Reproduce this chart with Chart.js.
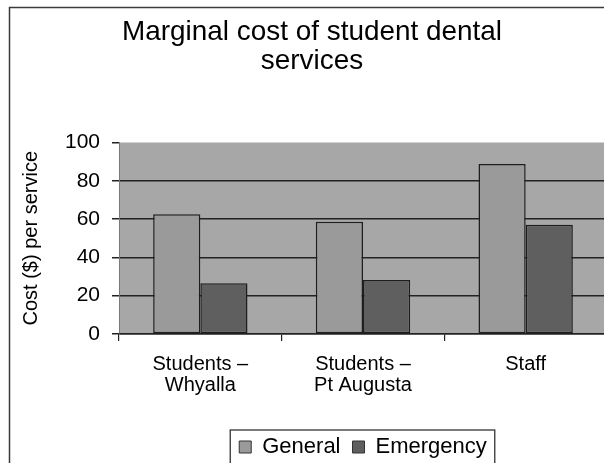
<!DOCTYPE html>
<html>
<head>
<meta charset="utf-8">
<script src="https://cdn.jsdelivr.net/npm/chart.js@4/dist/chart.umd.min.js"></script>
<style>
  html, body { margin: 0; padding: 0; background: #fff; overflow: hidden; }
  canvas { display: block; }
</style>
</head>
<body>
<canvas id="chart" width="620" height="470"></canvas>
<script>
// data
const categories = [['Students \u2013', 'Whyalla'], ['Students \u2013', 'Pt Augusta'], 'Staff'];
const general = [62.5, 58.6, 88.8];
const emergency = [26.5, 28.2, 57.0];
const yTicks = [0, 20, 40, 60, 80, 100];

const FONT = "'Liberation Sans', Arial, sans-serif";

// white page, grey plot area, outer frame
const backdrop = {
    id: 'backdrop',
    beforeDraw(chart) {
        const { ctx, chartArea: a } = chart;
        ctx.save();
        ctx.fillStyle = '#fff';
        ctx.fillRect(0, 0, chart.width, chart.height);
        ctx.fillStyle = '#a7a7a7';
        ctx.fillRect(a.left, a.top, a.right - a.left, a.bottom - a.top);
        ctx.restore();
    },
    afterDraw(chart) {
        const ctx = chart.ctx;
        ctx.save();
        ctx.strokeStyle = '#3a3a3a';
        ctx.lineWidth = 1.5;
        ctx.strokeRect(9.5, 7.5, 800, 800);
        // box round the legend
        const hb = chart.legend.legendHitBoxes;
        if (hb && hb.length) {
            const first = hb[0], last = hb[hb.length - 1];
            const l = first.left - 9, r = last.left + last.width + 8;
            ctx.strokeStyle = '#333';
            ctx.lineWidth = 1.3;
            ctx.strokeRect(l, first.top - 6, r - l, 200);
        }
        ctx.restore();
    }
};

new Chart(document.getElementById('chart'), {
    type: 'bar',
    data: {
        labels: categories,
        datasets: [
            { label: 'General', data: general, backgroundColor: '#9a9a9a', borderColor: '#1e1e1e', borderWidth: 1.5 },
            { label: 'Emergency', data: emergency, backgroundColor: '#5f5f5f', borderColor: '#1e1e1e', borderWidth: 1.5 }
        ]
    },
    options: {
        responsive: false,
        animation: false,
        devicePixelRatio: 1,
        layout: { padding: { top: 0, left: 17, right: 13, bottom: 2 } },
        datasets: { bar: { categoryPercentage: 0.58, barPercentage: 1.0, borderSkipped: false } },
        plugins: {
            title: {
                display: true,
                text: ['Marginal cost of student dental', 'services'],
                color: '#000',
                font: { family: FONT, size: 27.9, weight: 'normal', lineHeight: 1.05 },
                padding: { top: 17.6, bottom: 66.3 }
            },
            legend: {
                position: 'bottom',
                fullSize: false,
                labels: {
                    color: '#000',
                    font: { family: FONT, size: 22 },
                    boxWidth: 12,
                    boxHeight: 12,
                    padding: 12,
                    generateLabels: (chart) => chart.data.datasets.map((ds, i) => ({
                        text: ds.label,
                        fillStyle: ds.backgroundColor,
                        strokeStyle: '#333',
                        lineWidth: 1,
                        fontColor: '#000',
                        datasetIndex: i
                    }))
                }
            },
            tooltip: { enabled: false }
        },
        scales: {
            x: {
                offset: true,
                grid: { drawOnChartArea: false, drawTicks: true, tickLength: 7, tickColor: '#222', lineWidth: 1.2 },
                border: { color: '#222', width: 1.5 },
                ticks: { color: '#000', padding: 13, font: { family: FONT, size: 20, lineHeight: 1.05 } },
                afterFit: (s) => { s.height = 90; }
            },
            y: {
                min: 0,
                max: 100,
                afterBuildTicks: (s) => { s.ticks = yTicks.map(v => ({ value: v })); },
                grid: {
                    color: (c) => c.tick && c.tick.value === 100 ? 'rgba(0,0,0,0)' : '#222',
                    lineWidth: 1.5,
                    tickColor: '#222',
                    tickLength: 7
                },
                border: { color: 'rgba(90,90,90,0.6)', width: 1 },
                ticks: { color: '#000', padding: 12, font: { family: FONT, size: 21 } },
                title: {
                    display: true,
                    text: 'Cost ($) per service',
                    color: '#000',
                    font: { family: FONT, size: 20 },
                    padding: { top: 2, bottom: 0 }
                },
                afterFit: (s) => { s.width = 102; }
            }
        }
    },
    plugins: [backdrop]
});
</script>
</body>
</html>
